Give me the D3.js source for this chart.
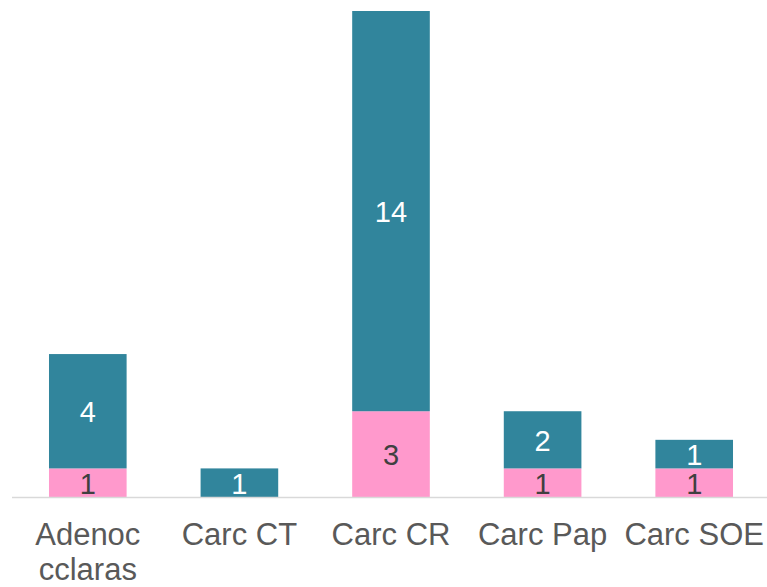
<!DOCTYPE html>
<html><head><meta charset="utf-8">
<script src="https://cdn.jsdelivr.net/npm/d3@7"></script>
<style>body{margin:0;background:#fff}svg{display:block}</style>
</head><body>
<svg id="c" width="767" height="587"></svg>
<script>
const categories = [["Adenoc","cclaras"],["Carc CT"],["Carc CR"],["Carc Pap"],["Carc SOE"]];
const pinkValues = [1, 0, 3, 1, 1];
const tealValues = [4, 1, 14, 2, 1];

const svg = d3.select("#c");
const font = "'Liberation Sans', Arial, sans-serif";
const keys = categories.map(c => c.join(" "));
const x = d3.scaleBand().domain(keys).range([12, 770]).paddingInner(0.488).paddingOuter(0.244);
const y = d3.scaleLinear().domain([0, 17]).range([497, 11]);

const data = keys.map((k, i) => ({k, pink: pinkValues[i], teal: tealValues[i]}));
const stack = d3.stack().keys(["pink", "teal"])(data);
const colors = {pink: "#FF99CC", teal: "#31859C"};
const labelColors = {pink: "#404040", teal: "#ffffff"};

stack.forEach(s => {
  const g = svg.append("g");
  g.selectAll("rect").data(s).join("rect")
    .attr("x", d => x(d.data.k)).attr("width", x.bandwidth())
    .attr("y", d => y(d[1])).attr("height", d => y(d[0]) - y(d[1]))
    .attr("fill", colors[s.key]);
  g.selectAll("text").data(s.filter(d => d[1] - d[0] > 0)).join("text")
    .attr("x", d => x(d.data.k) + x.bandwidth() / 2)
    .attr("y", d => (y(d[0]) + y(d[1])) / 2 + 11)
    .attr("text-anchor", "middle")
    .attr("font-family", font).attr("font-size", 29)
    .attr("fill", labelColors[s.key])
    .text(d => d[1] - d[0]);
});

svg.append("line").attr("x1", 12).attr("x2", 767).attr("y1", 497.5).attr("y2", 497.5)
  .attr("stroke", "#d9d9d9").attr("stroke-width", 1.5);

const xa = svg.append("g");
categories.forEach((c, i) => {
  const t = xa.append("text").attr("x", x(keys[i]) + x.bandwidth() / 2).attr("y", 545)
    .attr("text-anchor", "middle").attr("font-family", font).attr("font-size", 31).attr("fill", "#595959");
  c.forEach((line, j) => t.append("tspan").attr("x", x(keys[i]) + x.bandwidth() / 2).attr("dy", j ? 35 : 0).text(line));
});
</script>
</body></html>
